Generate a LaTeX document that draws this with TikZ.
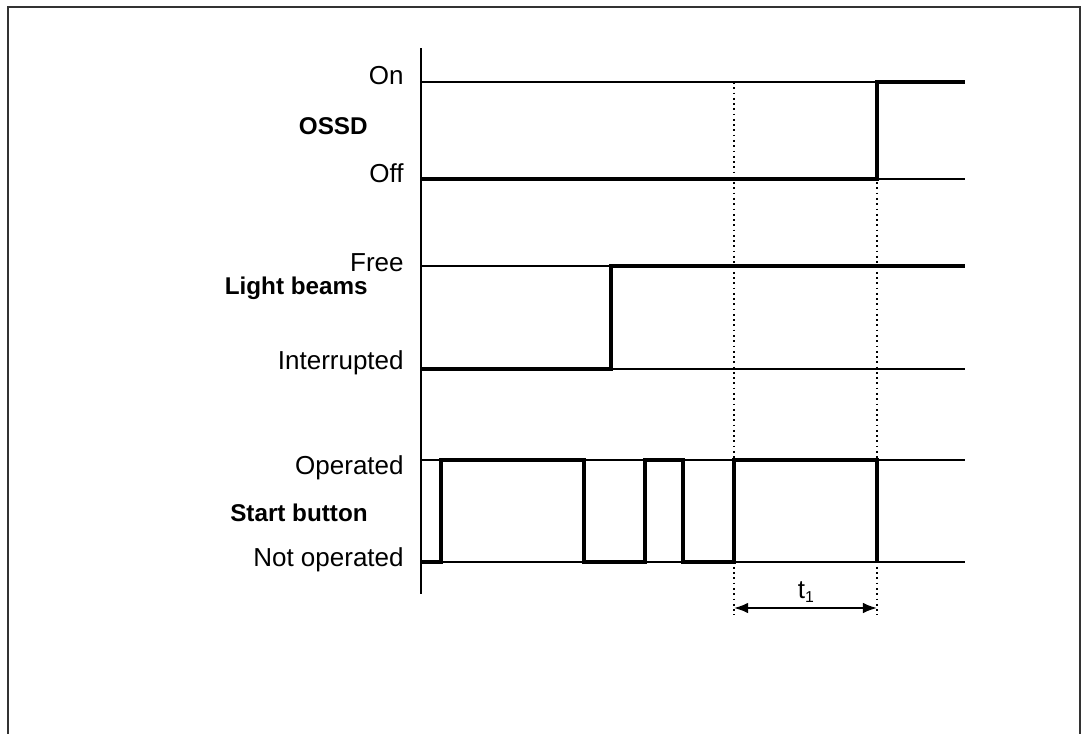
\documentclass[tikz,border=0pt]{standalone}
\usepackage{fontspec}
\setmainfont{Liberation Sans}
\usetikzlibrary{arrows.meta}
\begin{document}
\begin{tikzpicture}[x=0.02cm,y=-0.02cm]
        \tikzstyle{every node} = [inner sep=0pt]
        \tikzstyle{levelname} = [anchor=base east, font=\fontsize{14.8}{16}\selectfont]
        \tikzstyle{signame} = [anchor=base east, font=\fontsize{13.8}{15}\selectfont\bfseries]
        \tikzstyle{levelline} = [line width=0.8pt]
        \tikzstyle{signal} = [line width=2.3pt, line join=miter]
        \tikzstyle{marker} = [dotted, line width=1pt]
        \useasboundingbox (0,0) rectangle (1090,734);
        \draw[gray!40!black, line width=1.1pt] (8,734) -- (8,7) -- (1080,7) -- (1080,734);

        % levels
        \foreach \name/\y in {on/82, off/179, free/266, intr/369, oper/460, notop/562}
          {
            \coordinate (\name) at (421,\y);
            \coordinate (e\name) at (965,\y);
            \draw[levelline] (\name) -- (e\name);
          }
        \coordinate (axtop) at (421,48);
        \coordinate (axbot) at (421,594);
        \draw[line width=1.1pt] (axtop) -- (axbot);

        \node[levelname] (lon) at (404,84) {On};
        \node[levelname] (loff) at (404,182) {Off};
        \node[levelname] (lfree) at (404,271) {Free};
        \node[levelname] (lintr) at (404,369) {Interrupted};
        \node[levelname] (loper) at (404,474) {Operated};
        \node[levelname] (lnotop) at (404,566) {Not operated};
        \node[signame] (ossd) at (368,134) {OSSD};
        \node[signame] (beams) at (368,294) {Light beams};
        \node[signame] (start) at (368,521) {Start button};

        % signals
        \draw[signal] (off) -- (877,179) -- (877,82) -- (eon);
        \draw[signal] (intr) -- (611,369) -- (611,266) -- (efree);
        \draw[signal] (notop) -- (441,562) -- (441,460) -- (584,460) -- (584,562)
            -- (645,562) -- (645,460) -- (683,460) -- (683,562) -- (734,562)
            -- (734,460) -- (877,460) -- (877,562);

        % time t1
        \foreach \x in {734, 877}
            \draw[marker] (\x,82) -- (\x,615);
        \coordinate (ta) at (734,608);
        \coordinate (tb) at (877,608);
        \draw[{Latex[length=8pt,width=6pt]}-{Latex[length=8pt,width=6pt]}, line width=1pt] (ta) -- (tb);
        \node[font=\fontsize{14.8}{16}\selectfont] (t1) at (806,592) {t\raisebox{-0.35ex}{\fontsize{9}{10}\selectfont 1}};
      \end{tikzpicture}
\end{document}
